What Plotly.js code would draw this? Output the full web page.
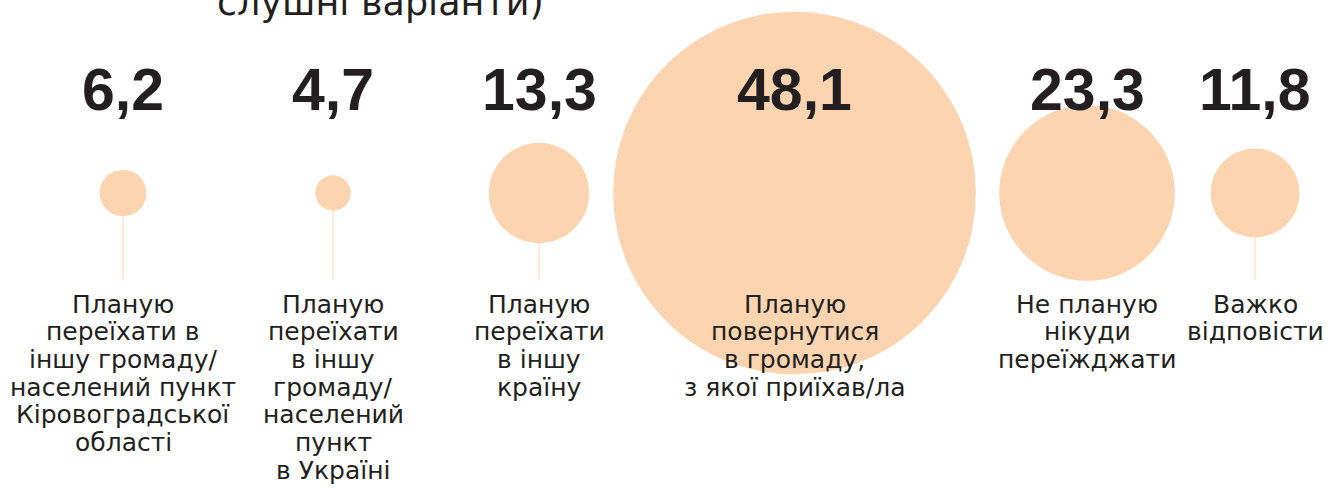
<!DOCTYPE html>
<html><head><meta charset="utf-8">
<script src="https://cdn.plot.ly/plotly-3.0.1.min.js"></script>
<style>html,body{margin:0;padding:0;background:#fff;overflow:hidden}#chart{width:1339px;height:488px}</style>
</head><body><div id="chart"></div>
<script>
// ---- data ----
const categories = [
  ["Планую", "переїхати в", "іншу громаду/", "населений пункт", "Кіровоградської", "області"],
  ["Планую", "переїхати", "в іншу", "громаду/", "населений", "пункт", "в Україні"],
  ["Планую", "переїхати", "в іншу", "країну"],
  ["Планую", "повернутися", "в громаду,", "з якої приїхав/ла"],
  ["Не планую", "нікуди", "переїжджати"],
  ["Важко", "відповісти"]
];
const values = [6.2, 4.7, 13.3, 48.1, 23.3, 11.8];
const valueLabels = ["6,2", "4,7", "13,3", "48,1", "23,3", "11,8"];
const titleText = "слушні варіанти)";

// ---- layout constants (positions / styles) ----
const slotX = [123, 333, 539, 794.5, 1087, 1255];
const bubbleY = 193;
const stemBottom = 280;
const numberY = 90;
const labelFirstMid = 304;
const labelStep = 27.7;
const pxPerUnit = 7.54;
const ink = "#231f20";
const peach = "#fcd5b0";
const stemColor = "#fde3cb";

const stemX = [], stemY = [];
slotX.forEach(x => { stemX.push(x, x, null); stemY.push(bubbleY, stemBottom, null); });

const traces = [
  {type: "scatter", mode: "lines", x: stemX, y: stemY,
   line: {color: stemColor, width: 1.5}, hoverinfo: "skip", showlegend: false},
  {type: "scatter", mode: "markers", x: slotX, y: values.map(() => bubbleY),
   marker: {size: values, sizemode: "diameter", sizeref: 1 / pxPerUnit,
            color: peach, opacity: 1, line: {width: 0}},
   hoverinfo: "skip", showlegend: false, cliponaxis: false}
];

const annotations = [];
valueLabels.forEach((t, i) => annotations.push({
  x: slotX[i], y: numberY, xref: "x", yref: "y", text: t, showarrow: false,
  xanchor: "center", yanchor: "middle",
  font: {family: "Liberation Sans, Arial, sans-serif", size: 59, color: ink, weight: 700}
}));
categories.forEach((lines, i) => lines.forEach((ln, j) => annotations.push({
  x: slotX[i], y: labelFirstMid + j * labelStep, xref: "x", yref: "y", text: ln, showarrow: false,
  xanchor: "center", yanchor: "middle",
  font: {family: "DejaVu Sans, sans-serif", size: 25, color: ink}
})));
annotations.push({
  x: 380, y: 26, xref: "x", yref: "y", text: titleText, showarrow: false,
  xanchor: "center", yanchor: "bottom",
  font: {family: "DejaVu Sans, sans-serif", size: 36.5, color: ink}
});

const layout = {
  width: 1339, height: 488,
  margin: {l: 0, r: 0, t: 0, b: 0},
  paper_bgcolor: "#ffffff", plot_bgcolor: "#ffffff",
  xaxis: {range: [0, 1339], visible: false, fixedrange: true},
  yaxis: {range: [488, 0], visible: false, fixedrange: true},
  showlegend: false,
  annotations: annotations
};

Plotly.newPlot("chart", traces, layout, {displayModeBar: false, staticPlot: true});
</script>
</body></html>
